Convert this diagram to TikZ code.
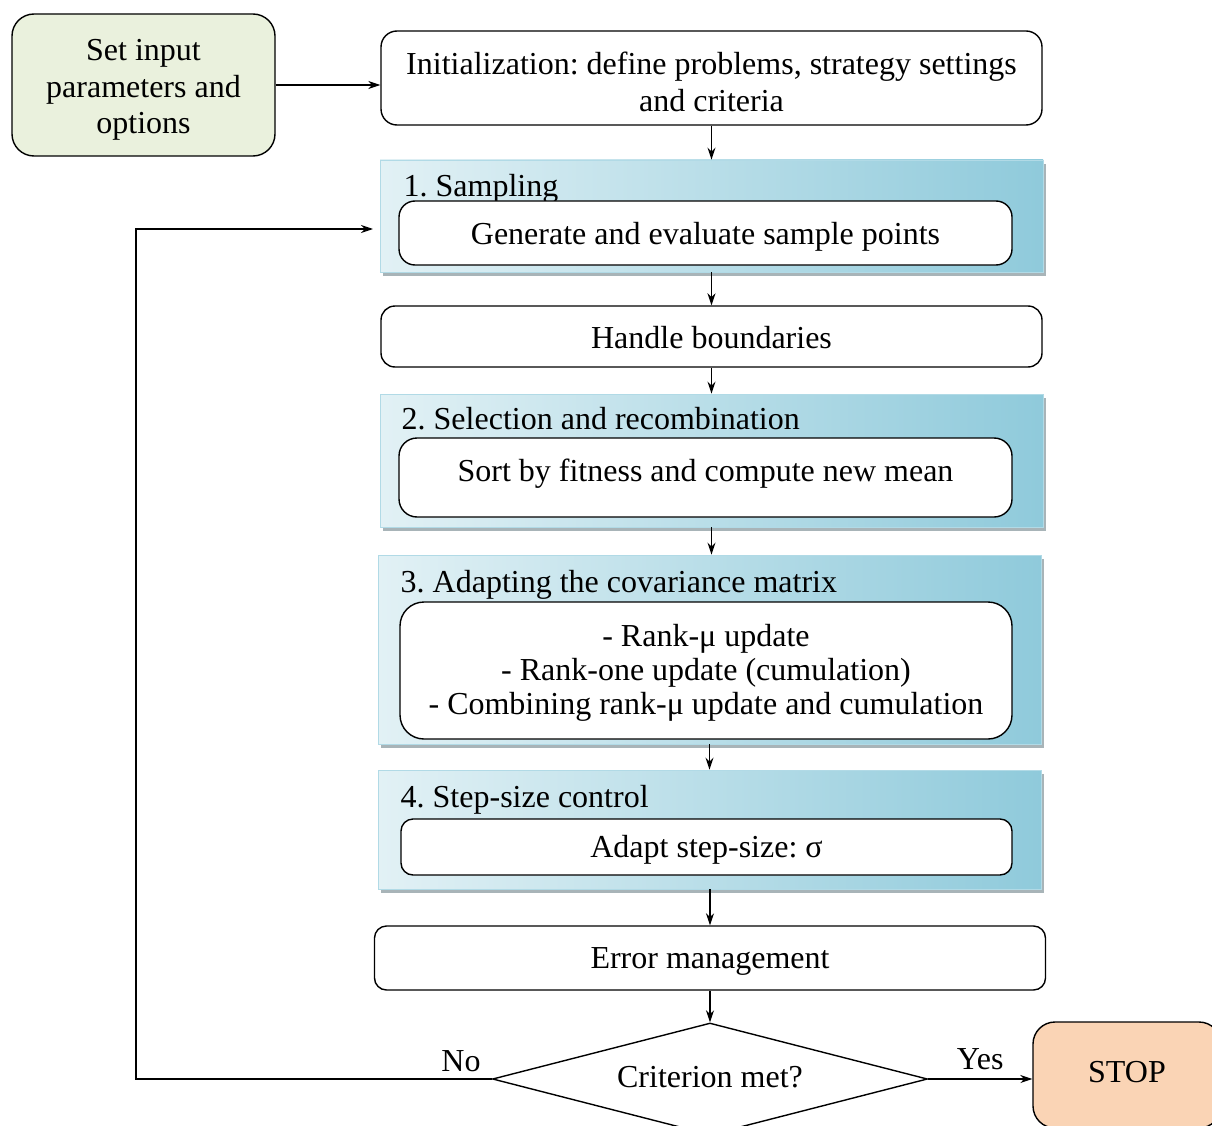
\documentclass[tikz,border=0pt]{standalone}
\usepackage{fontspec}
\setmainfont{Liberation Serif}
\usetikzlibrary{arrows.meta,shapes.geometric,positioning}
\definecolor{inputgreen}{HTML}{EAF1DD}
\definecolor{stoppeach}{HTML}{FAD4B5}
\definecolor{panelL}{HTML}{E2F1F5}
\definecolor{panelR}{HTML}{8FCADB}
\definecolor{shadowgray}{HTML}{A8B4B8}
\frenchspacing
\newcommand\shiftdn[2]{\raisebox{-#1}[\height][\depth]{#2}}
\newcommand\stacklines[1]{\begin{tabular}{@{}c@{}}#1\end{tabular}}
\begin{document}
\begin{tikzpicture}[x=1pt,y=-1pt,line width=1.4pt,
  txt/.style={font=\fontsize{32}{35}\selectfont},
  box/.style={txt,draw,rounded corners=16pt,fill=white,align=center,inner sep=0pt},
  panel/.style={inner sep=0pt,left color=panelL,right color=panelR,draw=panelR!70!white,line width=0.8pt},
  ptitle/.style={txt,anchor=west,inner sep=0pt},
  arr/.style={-{Stealth[length=12pt,width=8pt]},line width=1.4pt}
]
\useasboundingbox (0,0) rectangle (1212,1126);
% input and init
\node[box,fill=inputgreen,minimum width=263,minimum height=142,rounded corners=22pt,font=\fontsize{32}{36.5}\selectfont] (inp) at (143.5,85) {\shiftdn{5pt}{\stacklines{Set input\\parameters and\\options}}};
\node[box,minimum width=661,minimum height=94,font=\fontsize{32}{37}\selectfont] (init) at (711.5,78) {\shiftdn{8pt}{\stacklines{Initialization: define problems, strategy settings\\and criteria}}};
% panel 1
\fill[shadowgray] (383,164) rectangle (1046,276);
\node[panel,minimum width=663,minimum height=112] (p1) at (711.5,216) {};
\node[ptitle] (t1) at (403,189) {1. Sampling};
\node[box,minimum width=613,minimum height=64] (b1) at (705.5,233) {\shiftdn{4pt}{Generate and evaluate sample points}};
% handle boundaries
\node[box,minimum width=661,minimum height=61,rounded corners=14pt] (hb) at (711.5,336.5) {\shiftdn{1pt}{Handle boundaries}};
% panel 2
\fill[shadowgray] (383,398) rectangle (1046,531);
\node[panel,minimum width=663,minimum height=133] (p2) at (711.5,460.5) {};
\node[ptitle] (t2) at (401,419) {2. Selection and recombination};
\node[box,minimum width=613,minimum height=79,rounded corners=18pt] (b2) at (705.5,477.5) {\raisebox{4pt}[\height][\depth]{Sort by fitness and compute new mean}};
% panel 3
\fill[shadowgray] (381,559) rectangle (1044,748);
\node[panel,minimum width=663,minimum height=189] (p3) at (709.5,649.5) {};
\node[ptitle] (t3) at (400,585) {3. Adapting the covariance matrix};
\node[box,minimum width=612,minimum height=137,rounded corners=24pt,font=\fontsize{32}{34}\selectfont] (b3) at (706,670.5) {\shiftdn{3pt}{\stacklines{- Rank-μ update\\- Rank-one update (cumulation)\\- Combining rank-μ update and cumulation}}};
% panel 4
\fill[shadowgray] (381,774) rectangle (1044,893);
\node[panel,minimum width=663,minimum height=119] (p4) at (709.5,829.5) {};
\node[ptitle] (t4) at (400,800) {4. Step-size control};
\node[box,minimum width=611,minimum height=56,rounded corners=12pt] (b4) at (706.5,847) {\shiftdn{3pt}{Adapt step-size: σ}};
% error management
\node[box,minimum width=671,minimum height=64,rounded corners=12pt] (em) at (710,958) {\shiftdn{3pt}{Error management}};
% decision
\node[txt,draw,diamond,fill=white,minimum width=435,minimum height=112,inner sep=0pt] (dec) at (710,1079) {};
\node[txt] (dect) at (710,1077) {Criterion met?};
\node[box,fill=stoppeach,minimum width=188,minimum height=106,rounded corners=22pt] (stop) at (1127,1075) {\raisebox{3pt}[\height][\depth]{STOP}};
% connectors
\draw[arr] (inp.east) -- (inp.east -| init.west);
\draw[arr] (init.south) -- (init.south |- p1.north);
\draw[arr] (p1.south -| hb.north) -- (hb.north);
\draw[arr] (hb.south) -- (hb.south |- p2.north);
\draw[arr] (p2.south) -- (p2.south |- p3.north);
\draw[arr] (p3.south) -- (p3.south |- p4.north);
\draw[arr] (p4.south -| em.north) -- (em.north);
\draw[arr] (em.south) -- (dec.north);
\draw[arr] (dec.east) -- (dec.east -| stop.west) node[txt,midway,above=5pt] (yes) {Yes};
\coordinate (lp) at (136,229);
\coordinate (loopend) at (373,229);
\draw[arr] (dec.west) -| (lp) -- (loopend);
\node[txt] (no) at (461,1061) {No};
\end{tikzpicture}
\end{document}
